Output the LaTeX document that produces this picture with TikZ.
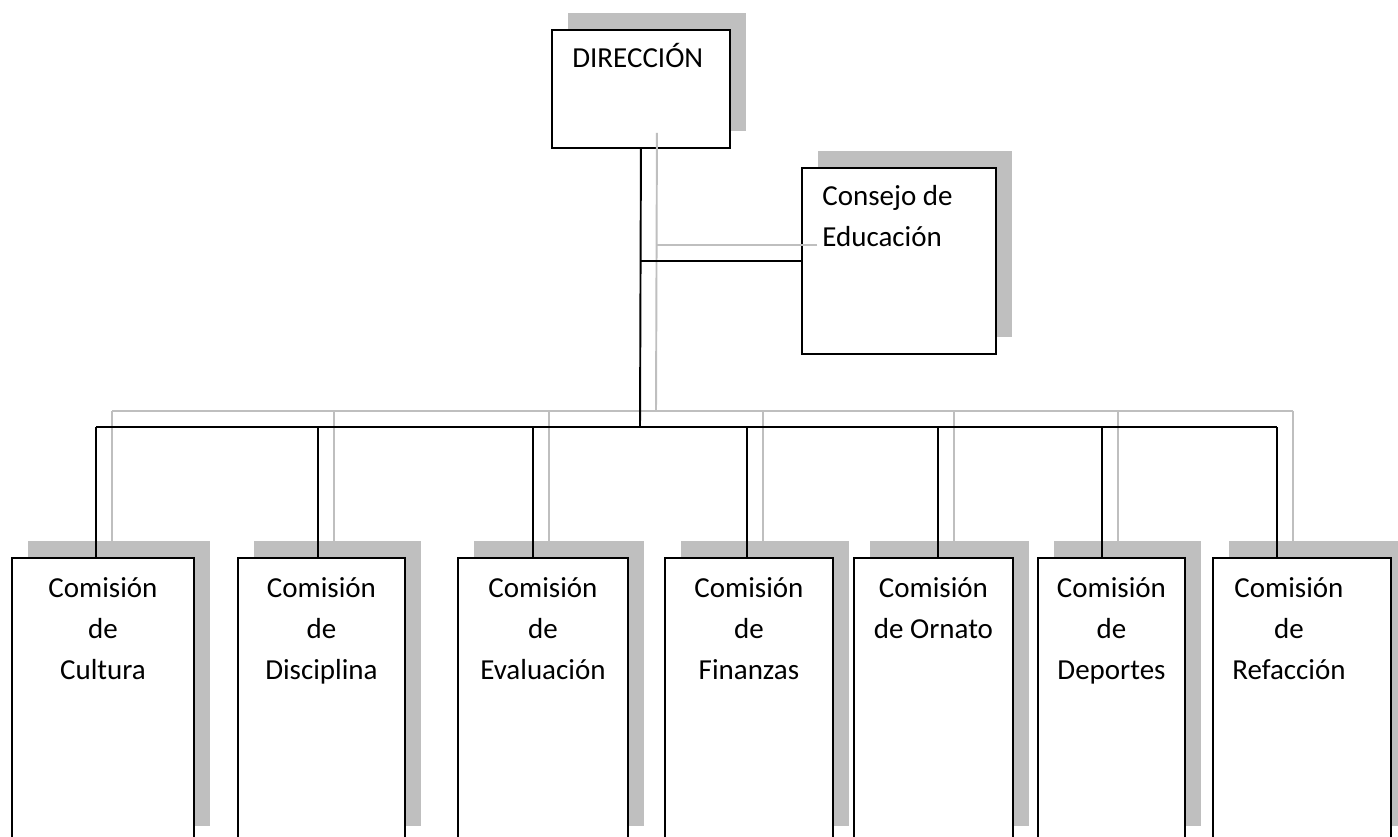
\documentclass[tikz,border=0pt]{standalone}
\usepackage{fontspec}
\setmainfont{Carlito}
\usetikzlibrary{positioning,shadows}

\tikzset{
  caja/.style={draw=black, line width=1.1pt, fill=white, inner sep=0pt, anchor=north west,
    drop shadow={shadow xshift=0.32cm, shadow yshift=0.33cm, fill=gray!50, opacity=1}},
  texto/.style={inner sep=0pt, font=\fontsize{16.5}{23.2}\selectfont},
  conector/.style={line width=1.1pt}
}

\begin{document}
\begin{tikzpicture}[x=0.02cm, y=-0.02cm]
      \useasboundingbox (0, 0) rectangle (1398, 836);
      \clip (0, 0) rectangle (1398, 836);
      % cajas de arriba
      \node[caja, minimum width=3.56cm, minimum height=2.36cm] (dir) at (551, 29) {};
      \node[caja, minimum width=3.88cm, minimum height=3.72cm] (consejo) at (801, 167) {};
      \node[texto, anchor=base west] (tdir) at ([shift={(21, 38)}]dir.north west) {DIRECCIÓN};
      \node[texto, anchor=base west, align=left] (tconsejo) at ([shift={(21, 79)}]consejo.north west) {Consejo de\\Educación};
      % comisiones (\yb = linea base de la ultima linea)
      \foreach \n/\xa/\w/\txt/\dx/\yb/\xd in {
            1/11/3.64/{Comisión\\de\\Cultura}/0/122/96,
            2/237/3.34/{Comisión\\de\\Disciplina}/0/122/318,
            3/457/3.40/{Comisión\\de\\Evaluación}/0/122/533,
            4/664/3.36/{Comisión\\de\\Finanzas}/0/122/747,
            5/853/3.18/{Comisión\\de Ornato}/0/81/938,
            6/1037/2.94/{Comisión\\de\\Deportes}/0/122/1102,
            7/1212/3.56/{Comisión\\de\\Refacción}/-13/122/1277} {
        \node[caja, minimum width=\w cm, minimum height=5.7cm] (com\n) at (\xa, 557) {};
        \node[texto, anchor=base, align=center] (tcom\n) at ([shift={(\dx, \yb)}]com\n.north) {\txt};
        \coordinate (d\n) at (\xd, 557);
      }
      \coordinate (barra) at (640, 427);
      % lineas: primero la sombra gris, luego la negra
      \foreach \col/\sx/\sy in {gray!50/16/-16, black/0/0} {
        \draw[conector, draw=\col] ([shift={(\sx, \sy)}]dir.south) -- ([shift={(\sx, \sy)}]barra);
        \draw[conector, draw=\col] ([shift={(\sx, \sy)}]consejo.west) -- ([shift={(\sx, \sy)}]consejo.west -| barra);
        \draw[conector, draw=\col] ([shift={(\sx, \sy)}]d1 |- barra) -- ([shift={(\sx, \sy)}]d7 |- barra);
        \foreach \n in {1, ..., 7}
          \draw[conector, draw=\col] ([shift={(\sx, \sy)}]d\n |- barra) -- ([shift={(\sx, \sy)}]d\n);
      }
\end{tikzpicture}
\end{document}
